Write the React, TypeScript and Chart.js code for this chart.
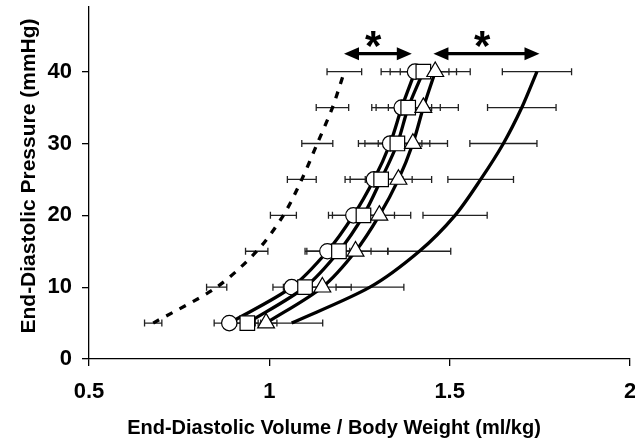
import React, { useEffect, useRef } from "react";
import { Chart, registerables } from "chart.js";

Chart.register(...registerables);

// End-diastolic pressure levels (mmHg)
const PRESSURES = [5, 10, 15, 20, 25, 30, 35, 40];
// Dashed series (no markers)
const DASHED_X = [0.678, 0.854, 0.965, 1.039, 1.09, 1.133, 1.175, 1.208];
const DASHED_SD = [0.024, 0.028, 0.031, 0.036, 0.04, 0.043, 0.045, 0.048];
// Circle series
const CIRCLE_X = [0.889, 1.062, 1.161, 1.233, 1.29, 1.335, 1.367, 1.404];
const CIRCLE_SD = [0.042, 0.052, 0.062, 0.069, 0.08, 0.088, 0.083, 0.094];
// Square series
const SQUARE_X = [0.939, 1.099, 1.193, 1.261, 1.31, 1.355, 1.385, 1.427];
const SQUARE_SD = [0.03, 0.06, 0.089, 0.086, 0.086, 0.09, 0.089, 0.092];
// Triangle series
const TRIANGLE_X = [0.991, 1.147, 1.239, 1.305, 1.358, 1.398, 1.427, 1.46];
const TRIANGLE_SD = [0.03, 0.08, 0.089, 0.087, 0.092, 0.096, 0.097, 0.097];
// Solid right-hand series (no markers)
const SOLID_X = [1.062, 1.279, 1.416, 1.515, 1.586, 1.649, 1.7, 1.742];
const SOLID_SD = [0.086, 0.094, 0.087, 0.089, 0.091, 0.093, 0.095, 0.096];

const X_TICKS = [0.5, 1, 1.5, 2];
const Y_TICKS = [0, 10, 20, 30, 40];
const X_MIN = 0.5;
const X_MAX = 2;
const Y_MIN = 0;
const Y_MAX = 49;

const X_TITLE = "End-Diastolic Volume / Body Weight (ml/kg)";
const Y_TITLE = "End-Diastolic Pressure (mmHg)";

// Significance annotations
const ARROW_FROM = [1.207, 1.455];
const ARROW_TO = [1.395, 1.749];
const ARROW_Y = [42.5, 42.5];
const STAR_X = [1.288, 1.59];
const STAR_Y = [45.0, 45.0];
const STAR_TEXT = "*";

const FONT = "'Liberation Sans', Arial, sans-serif";

const toPoints = (xs: number[]) => xs.map((x, i) => ({ x, y: PRESSURES[i] }));

const errorBarPlugin = {
  id: "errorBars",
  beforeDatasetsDraw(chart: any) {
    const { ctx } = chart;
    const xs = chart.scales.x;
    const ys = chart.scales.y;
    const groups: [number[], number[]][] = [
      [DASHED_X, DASHED_SD],
      [SOLID_X, SOLID_SD],
      [CIRCLE_X, CIRCLE_SD],
      [SQUARE_X, SQUARE_SD],
      [TRIANGLE_X, TRIANGLE_SD],
    ];
    ctx.save();
    ctx.strokeStyle = "#222";
    ctx.lineWidth = 1.3;
    for (const [vals, sds] of groups) {
      vals.forEach((v, i) => {
        const y = ys.getPixelForValue(PRESSURES[i]);
        const x1 = xs.getPixelForValue(v - sds[i]);
        const x2 = xs.getPixelForValue(v + sds[i]);
        ctx.beginPath();
        ctx.moveTo(x1, y);
        ctx.lineTo(x2, y);
        ctx.moveTo(x1, y - 3.5);
        ctx.lineTo(x1, y + 3.5);
        ctx.moveTo(x2, y - 3.5);
        ctx.lineTo(x2, y + 3.5);
        ctx.stroke();
      });
    }
    ctx.restore();
  },
};

const annotationPlugin = {
  id: "annotations",
  afterDraw(chart: any) {
    const { ctx } = chart;
    const xs = chart.scales.x;
    const ys = chart.scales.y;
    ctx.save();
    ctx.fillStyle = "#000";
    ctx.strokeStyle = "#000";
    // double-headed arrows
    ARROW_FROM.forEach((from, i) => {
      const xa = xs.getPixelForValue(from);
      const xb = xs.getPixelForValue(ARROW_TO[i]);
      const y = ys.getPixelForValue(ARROW_Y[i]);
      const head = 15;
      const half = 6.5;
      ctx.lineWidth = 3.2;
      ctx.beginPath();
      ctx.moveTo(xa + head - 2, y);
      ctx.lineTo(xb - head + 2, y);
      ctx.stroke();
      ctx.beginPath();
      ctx.moveTo(xa, y);
      ctx.lineTo(xa + head, y - half);
      ctx.lineTo(xa + head, y + half);
      ctx.closePath();
      ctx.fill();
      ctx.beginPath();
      ctx.moveTo(xb, y);
      ctx.lineTo(xb - head, y - half);
      ctx.lineTo(xb - head, y + half);
      ctx.closePath();
      ctx.fill();
    });
    // stars
    ctx.font = `bold 42px ${FONT}`;
    ctx.textAlign = "center";
    ctx.textBaseline = "alphabetic";
    STAR_X.forEach((sx, i) => {
      const x = xs.getPixelForValue(sx);
      const y = ys.getPixelForValue(STAR_Y[i]);
      ctx.fillText(STAR_TEXT, x, y + 24);
    });
    // axis titles
    ctx.font = `bold 20px ${FONT}`;
    ctx.textAlign = "center";
    ctx.textBaseline = "middle";
    ctx.fillText(X_TITLE, 334, 428);
    ctx.save();
    ctx.translate(29, 176);
    ctx.rotate(-Math.PI / 2);
    ctx.font = `bold 21px ${FONT}`;
    ctx.fillText(Y_TITLE, 0, 0);
    ctx.restore();
    ctx.restore();
  },
};

export default function App() {
  const canvasRef = useRef<HTMLCanvasElement | null>(null);

  useEffect(() => {
    document.body.style.margin = "0";
    const canvas = canvasRef.current;
    if (!canvas) return;
    const lineCommon = {
      borderColor: "#000",
      borderWidth: 3.3,
      showLine: true,
      tension: 0.3,
      pointBackgroundColor: "#fff",
      pointBorderColor: "#000",
      pointBorderWidth: 1.2,
      pointHoverRadius: 0,
    };
    const chart = new Chart(canvas, {
      type: "scatter",
      data: {
        datasets: [
          {
            ...lineCommon,
            label: "dashed",
            data: toPoints(DASHED_X),
            borderDash: [7, 8],
            pointRadius: 0,
            order: 5,
          },
          {
            ...lineCommon,
            label: "solid",
            data: toPoints(SOLID_X),
            pointRadius: 0,
            order: 4,
          },
          {
            ...lineCommon,
            label: "circle",
            data: toPoints(CIRCLE_X),
            pointStyle: "circle",
            pointRadius: 7.7,
            order: 3,
          },
          {
            ...lineCommon,
            label: "square",
            data: toPoints(SQUARE_X),
            pointStyle: "rect",
            pointRadius: 10.3,
            order: 2,
          },
          {
            ...lineCommon,
            label: "triangle",
            data: toPoints(TRIANGLE_X),
            pointStyle: "triangle",
            pointRadius: 9.7,
            order: 1,
          },
        ] as any,
      },
      options: {
        animation: false,
        responsive: true,
        maintainAspectRatio: false,
        devicePixelRatio: 1,
        layout: { autoPadding: false, padding: { top: 7, left: 0, right: 5, bottom: 0 } },
        plugins: {
          legend: { display: false },
          tooltip: { enabled: false },
          title: { display: false },
        },
        events: [],
        scales: {
          x: {
            type: "linear",
            min: X_MIN,
            max: X_MAX,
            afterBuildTicks: (scale: any) => {
              scale.ticks = X_TICKS.map((v) => ({ value: v }));
            },
            afterFit: (scale: any) => {
              scale.height = 84;
              scale.paddingLeft = 0;
              scale.paddingRight = 0;
            },
            ticks: {
              color: "#000",
              font: { family: FONT, size: 22, weight: "bold" },
              padding: 13,
              maxRotation: 0,
              autoSkip: false,
              callback: (v: any) => String(v),
            },
            grid: {
              display: true,
              drawOnChartArea: false,
              drawTicks: true,
              tickLength: 7,
              color: "#000",
              lineWidth: 1.3,
            },
            border: { display: true, color: "#000", width: 1.3 },
          },
          y: {
            type: "linear",
            min: Y_MIN,
            max: Y_MAX,
            afterBuildTicks: (scale: any) => {
              scale.ticks = Y_TICKS.map((v) => ({ value: v }));
            },
            afterFit: (scale: any) => {
              scale.width = 89;
              scale.paddingTop = 0;
              scale.paddingBottom = 0;
            },
            ticks: {
              color: "#000",
              font: { family: FONT, size: 22, weight: "bold" },
              padding: 10,
              autoSkip: false,
              callback: (v: any) => String(v),
            },
            grid: {
              display: true,
              drawOnChartArea: false,
              drawTicks: true,
              tickLength: 7,
              color: "#000",
              lineWidth: 1.3,
            },
            border: { display: true, color: "#000", width: 1.3 },
          },
        },
      } as any,
      plugins: [errorBarPlugin, annotationPlugin],
    });
    return () => chart.destroy();
  }, []);

  return (
    <div style={{ position: "fixed", left: 0, top: 0, width: 635, height: 443, background: "#fff" }}>
      <canvas ref={canvasRef} />
    </div>
  );
}
